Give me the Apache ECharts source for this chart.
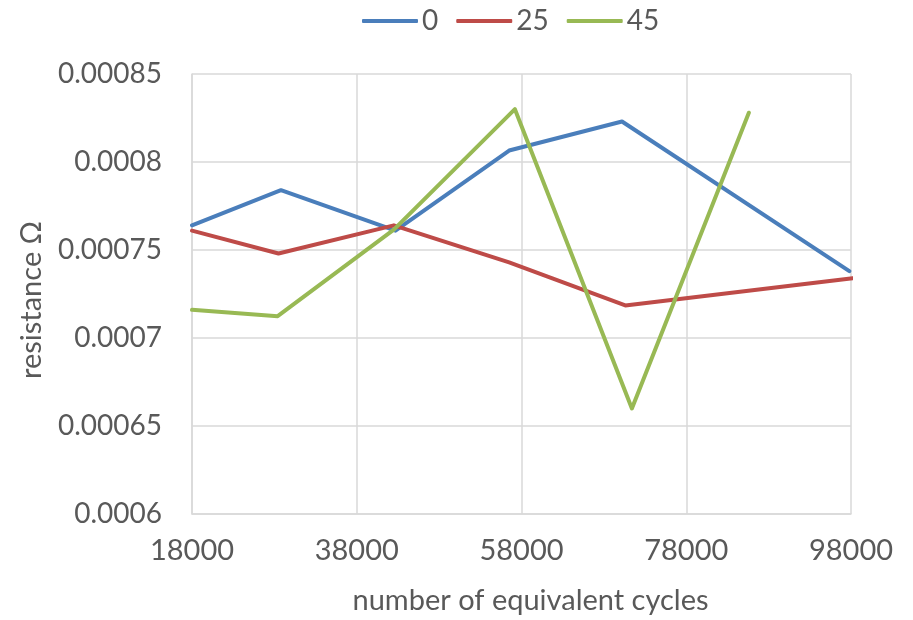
<!DOCTYPE html>
<html>
<head>
<meta charset="utf-8">
<script src="https://cdn.jsdelivr.net/npm/echarts@6/dist/echarts.min.js"></script>
<style>
  html, body { margin: 0; padding: 0; background: #fff; }
  #main { width: 913px; height: 620px; }
</style>
</head>
<body>
<div id="main"></div>
<script>
// cycles / resistance, one pair list per angle
var seriesNames = ['0', '25', '45'];
var cycles0  = [18000, 28800, 42700, 56500, 70200, 97800];
var res0     = [0.000764, 0.000784, 0.000761, 0.0008065, 0.000823, 0.000738];
var cycles25 = [18000, 28500, 42500, 56500, 70600, 98200];
var res25    = [0.000761, 0.000748, 0.000764, 0.000743, 0.0007185, 0.000734];
var cycles45 = [18000, 28400, 42500, 57200, 71400, 85600];
var res45    = [0.000716, 0.0007124, 0.0007616, 0.00083, 0.00066, 0.000828];
var colors = ['#4a7ebb', '#be4b48', '#98b954'];

function pairs(xs, ys) {
    var out = [];
    for (var i = 0; i < xs.length; i++) out.push([xs[i], ys[i]]);
    return out;
}

var allData = [pairs(cycles0, res0), pairs(cycles25, res25), pairs(cycles45, res45)];
var font = 'Lato, "Open Sans", sans-serif';

var series = [];
for (var i = 0; i < seriesNames.length; i++) {
    series.push({
        name: seriesNames[i],
        type: 'line',
        data: allData[i],
        showSymbol: false,
        symbol: 'none',
        clip: false,
        animation: false,
        lineStyle: { color: colors[i], width: 4, cap: 'round', join: 'round' },
        itemStyle: { color: colors[i] }
    });
}

var option = {
    textStyle: { fontFamily: font },
    legend: {
        top: 2,
        left: 357,
        itemWidth: 56,
        itemHeight: 4,
        itemGap: 18,
        icon: 'roundRect',
        textStyle: { fontSize: 28, color: '#595959', fontFamily: font, padding: [0, 0, 0, -1] },
        data: seriesNames
    },
    grid: { left: 192, right: 62, top: 74, bottom: 105 },
    xAxis: {
        type: 'value',
        min: 18000,
        max: 98000,
        interval: 20000,
        name: 'number of equivalent cycles',
        nameLocation: 'middle',
        nameGap: 72,
        nameTextStyle: { fontSize: 29, color: '#595959', fontFamily: font, padding: [0, 0, 0, 18] },
        axisLine: { lineStyle: { color: '#d9d9d9', width: 1.5 } },
        axisTick: { show: false },
        axisLabel: {
            fontSize: 29, color: '#595959', margin: 22, fontFamily: font,
            formatter: function (v) { return String(v); }
        },
        splitLine: { lineStyle: { color: '#d9d9d9', width: 1.5 } }
    },
    yAxis: {
        type: 'value',
        min: 0.0006,
        max: 0.00085,
        interval: 0.00005,
        name: 'resistance Ω',
        nameLocation: 'middle',
        nameGap: 146,
        nameTextStyle: { fontSize: 29, color: '#595959', fontFamily: font, padding: [0, 0, 0, -12] },
        axisLine: { show: true, lineStyle: { color: '#d9d9d9', width: 1.5 } },
        axisTick: { show: false },
        axisLabel: {
            fontSize: 28, color: '#595959', margin: 30, fontFamily: font,
            formatter: function (v) { return String(parseFloat(v.toPrecision(6))); }
        },
        splitLine: { lineStyle: { color: '#d9d9d9', width: 1.5 } }
    },
    series: series
};

var chart = echarts.init(document.getElementById('main'));
chart.setOption(option);
</script>
</body>
</html>
